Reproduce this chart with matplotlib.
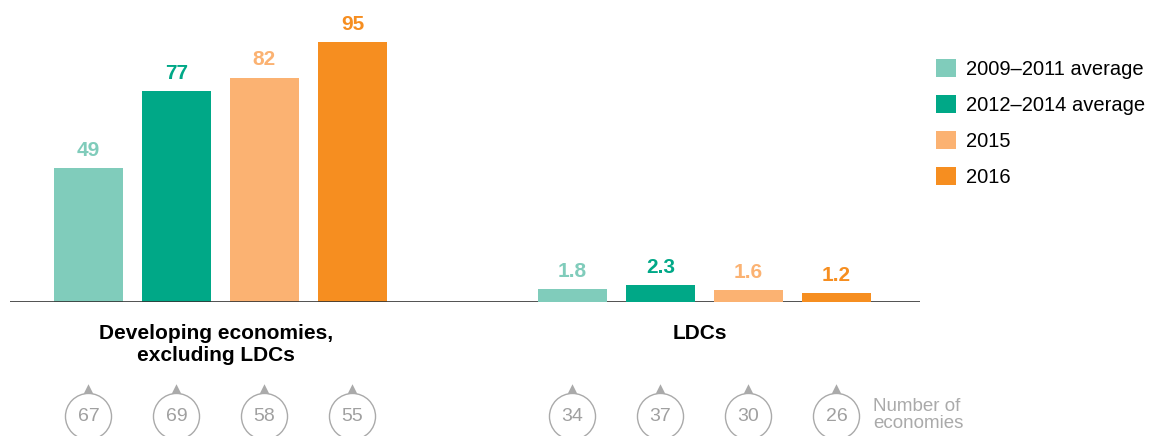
import matplotlib.pyplot as plt
import matplotlib.transforms as mtransforms
import numpy as np

plt.rcParams['font.family'] = ['Liberation Sans', 'DejaVu Sans']

# data
series = ['2009\u20132011 average', '2012\u20132014 average', '2015', '2016']
colors = ['#80CCBB', '#00A887', '#FBB272', '#F68E20']
developing = [49, 77, 82, 95]
ldcs = [1.8, 2.3, 1.6, 1.2]
developing_counts = [67, 69, 58, 55]
ldc_counts = [34, 37, 30, 26]
groups = ['Developing economies,\nexcluding LDCs', 'LDCs']

W, H = 1152, 436
fig = plt.figure(figsize=(W / 100, H / 100), dpi=100)
ax = fig.add_axes([10 / W, (H - 302) / H, 910 / W, 272 / H])
ax2 = ax.twinx()

x1 = np.arange(4)
x2 = np.arange(4) + 5.5
width = 0.784

for i in range(4):
    ax.bar(x1[i], developing[i], width, color=colors[i], label=series[i])
    ax2.bar(x2[i], ldcs[i], width, color=colors[i])
    ax.text(x1[i], developing[i] + 3, str(developing[i]), ha='center', va='bottom',
            color=colors[i], fontsize=15, fontweight='bold')
    ax2.text(x2[i], ldcs[i] + 1.1, str(ldcs[i]), ha='center', va='bottom',
             color=colors[i], fontsize=15, fontweight='bold')

ax.set_xlim(-0.892, 9.449)
ax.set_ylim(0, 99.4)
ax2.set_ylim(0, 36.8)
for a in (ax, ax2):
    for s in ['top', 'right', 'left', 'bottom']:
        a.spines[s].set_visible(False)
    a.set_yticks([])
    a.set_xticks([])
ax.axhline(0, color='#333333', lw=1.2)

trans = mtransforms.blended_transform_factory(ax.transData, ax.transAxes)
ax.text(x1.mean() - 0.05, -0.082, groups[0], transform=trans, ha='center', va='top',
        fontsize=15, fontweight='bold', linespacing=1.15)
ax.text(x2.mean() - 0.05, -0.082, groups[1], transform=trans, ha='center', va='top',
        fontsize=15, fontweight='bold')

# circles with number of economies
cy = (302 - 416) / 272
ty = (302 - 391) / 272
xs = np.concatenate([x1, x2])
counts = developing_counts + ldc_counts
ax.scatter(xs, [ty] * 8, s=110, marker='^', color='#aaaaaa', transform=trans,
           clip_on=False, zorder=3, linewidths=0)
ax.scatter(xs, [cy] * 8, s=1100, marker='o', facecolor='white', edgecolor='#aaaaaa',
           linewidths=1.0, transform=trans, clip_on=False, zorder=4)
for x, c in zip(xs, counts):
    ax.text(x, cy, str(c), transform=trans, ha='center', va='center',
            fontsize=14, color='#a0a0a0', zorder=5)
ax.text(873 / W, 21 / H, 'Number of\neconomies', transform=fig.transFigure,
        ha='left', va='center', fontsize=13.5, color='#aaaaaa', linespacing=1.0)

leg = fig.legend(loc='upper left', bbox_to_anchor=(926 / W, 1 - 49 / H),
                 frameon=False, fontsize=14.5, handlelength=1.0, handleheight=1.0,
                 handletextpad=0.5, labelspacing=0.8, borderpad=0)

fig.savefig('out.png', dpi=100)
